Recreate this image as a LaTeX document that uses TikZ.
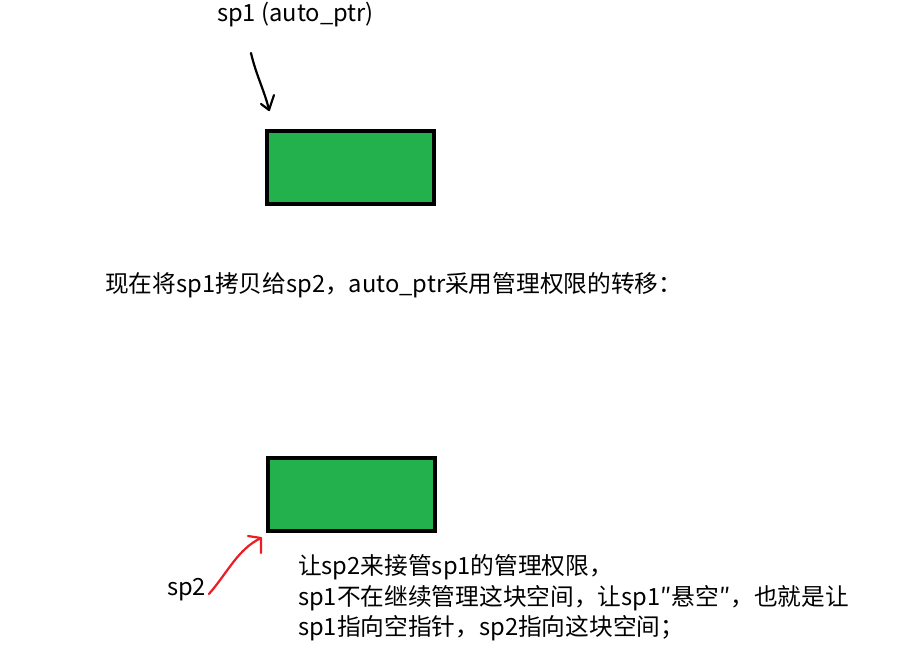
\documentclass[tikz,border=0pt]{standalone}
\usepackage{fontspec}
\setmainfont{Noto Sans CJK SC}
\definecolor{paintgreen}{RGB}{34,177,76}
\definecolor{paintred}{RGB}{237,28,36}

\begin{document}
\begin{tikzpicture}[x=1pt, y=-1pt,
    block/.style ={draw, line width=4pt, fill=paintgreen, inner sep=0pt,
                   minimum width=167pt, minimum height=73pt},
    note/.style  ={anchor=west, inner sep=0pt, font=\fontsize{23.7}{28}\selectfont},
    pen/.style   ={line width=2.2pt, line cap=round, line join=round}]
   \useasboundingbox (0,0) rectangle (922,663);
   % the two blocks
   \node[block] (heapA) at (350.5,167.5) {};
   \node[block] (heapB) at (351.5,494) {};
   % texts
   \node[note] (sp1lbl) at (217,15)  {sp1 (auto\_ptr)};
   \node[note] (copy)   at (105,285) {现在将sp1拷贝给sp2，auto\_ptr采用管理权限的转移：};
   \node[note] (sp2lbl) at (167,590) {sp2};
   \node[note] (lineA)  at (298,567) {让sp2来接管sp1的管理权限，};
   \node[note] (lineB)  at (298,598) {sp1不在继续管理这块空间，让sp1″悬空″，也就是让};
   \node[note] (lineC)  at (298,628) {sp1指向空指针，sp2指向这块空间；};
   % arrows
   \coordinate (tailA) at (251,53);
   \coordinate (tipA)  at (269,110);
   \draw[pen] (tailA) .. controls (256,75) and (265,92) .. (tipA);
   \draw[pen] (261,104) -- (tipA) -- (274,95);
   \coordinate (tailB) at (209,594);
   \coordinate (tipB)  at (261,538);
   \draw[pen, paintred] (tailB) .. controls (228,572) and (238,549) .. (tipB);
   \draw[pen, paintred] (248,536) -- (tipB) -- (261,553);
\end{tikzpicture}
\end{document}
